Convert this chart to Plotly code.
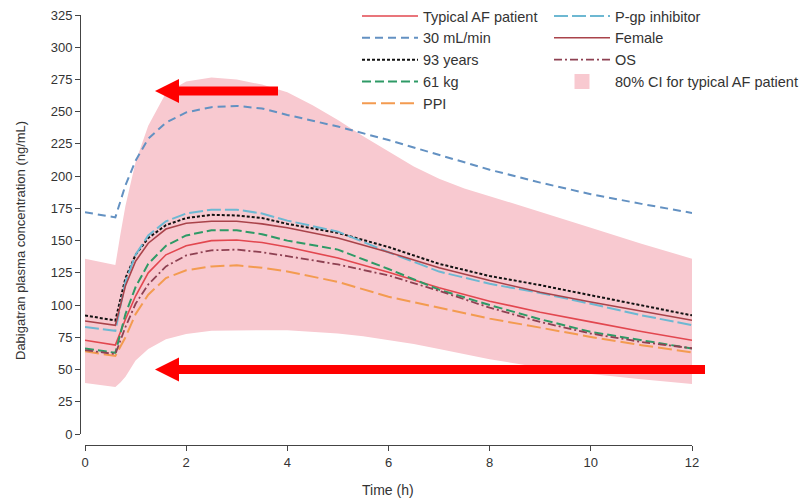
import plotly.graph_objects as go

# ---------------- data ----------------
T = [0, 0.6, 0.8, 1.0, 1.25, 1.6, 2.0, 2.5, 3.0, 3.5, 4, 5, 6, 7, 8, 9, 10, 11, 12]

typical = [72.7, 69, 89, 107, 125, 139, 146, 150, 150.5, 148.5, 145, 136.5, 125.5, 113.5, 103, 94.5, 87, 79.5, 72.7]
crcl30 = [172, 168, 193, 212, 229, 241.5, 249.5, 253.5, 254.5, 252.5, 247.5, 238.5, 228, 216.5, 205, 195, 186, 178.5, 171.5]
age93 = [92, 88, 121, 139, 152, 162, 167.5, 170, 169.5, 167.5, 163, 156, 145, 132, 122.5, 115.5, 107.6, 99.8, 92]
wt61 = [66.3, 63, 93, 114, 132, 146, 154, 158, 158, 155, 150, 143, 128, 112, 100, 89, 79.2, 72.7, 66.3]
ppi = [64.2, 60.5, 75, 93, 108, 121, 127, 130, 130.8, 129, 126, 118, 106.5, 98, 89.5, 82.5, 75.3, 68.9, 63.2]
pgp = [83, 80, 118, 139, 154, 165, 171, 174, 174, 171, 165.5, 157, 141, 126, 116.5, 109.4, 101, 92.1, 84.4]
female = [87.7, 84.3, 115, 134, 148, 159, 163.5, 165, 165, 163, 160, 152, 141, 129, 119, 110, 102.4, 95.2, 88.2]
os_ = [65, 62, 83, 101, 116, 130, 138.5, 142.5, 143, 141, 138, 131.5, 123, 111, 98, 86.9, 77.9, 71.4, 66.5]

# 80% CI band (own, finer time grid)
T_ci = [0, 0.6, 0.7, 0.8, 1.0, 1.25, 1.6, 2.0, 2.5, 3.0, 3.5, 4, 4.5, 5, 5.5, 6, 6.5, 7, 7.5, 8, 9, 10, 11, 12]
ci_lo = [39.5, 36.5, 40, 44.5, 57, 66, 73.5, 77.5, 80, 80.5, 80.5, 80.5, 79.5, 78, 75.8, 73, 69.8, 66, 62, 58, 51.5, 46.5, 42.5, 38.7]
ci_hi = [136, 131, 155, 177, 211, 239, 264.5, 273.5, 276.5, 275, 271, 265, 255, 243.5, 231, 219, 207.5, 198, 190.5, 184.5, 172.5, 160, 147.5, 136]

x_ticks = [0, 2, 4, 6, 8, 10, 12]
y_ticks = list(range(0, 326, 25))

# ---------------- figure ----------------
W, H = 803, 500
FONT = "Liberation Sans, Arial, Helvetica, sans-serif"


def fx(px):
    return px / W


def fy(py):
    return 1 - py / H


fig = go.Figure()

# confidence band
fig.add_trace(go.Scatter(x=T_ci, y=ci_lo, mode="lines", line=dict(width=0),
                         showlegend=False, hoverinfo="skip", legend="legend2"))
fig.add_trace(go.Scatter(x=T_ci, y=ci_hi, mode="lines", line=dict(width=0),
                         fill="tonexty", fillcolor="#f8c9d0", showlegend=False, hoverinfo="skip",
                         legend="legend2"))

series = [
    ("Typical AF patient", typical, "#e2474f", "solid", 1.6, "legend", 1),
    ("30 mL/min", crcl30, "#6391c2", "8px,5px", 2.0, "legend", 2),
    ("93 years", age93, "#111111", "3px,2px", 2.0, "legend", 3),
    ("61 kg", wt61, "#2e9a66", "9px,4px", 2.0, "legend", 4),
    ("PPI", ppi, "#f39b50", "14px,5px", 2.0, "legend", 5),
    ("P-gp inhibitor", pgp, "#6db8d2", "14px,4px", 2.0, "legend2", 6),
    ("Female", female, "#a9434a", "solid", 1.6, "legend2", 7),
    ("OS", os_, "#8e4152", "8px,3px,2px,3px", 1.8, "legend2", 8),
]
for name, ys, col, dash, w, lg, rk in series:
    fig.add_trace(go.Scatter(x=T, y=ys, mode="lines", name=name,
                             line=dict(color=col, dash=dash, width=w),
                             legend=lg, legendrank=rk))

# legend proxy for the band
fig.add_trace(go.Scatter(x=[None], y=[None], mode="markers", name="80% CI for typical AF patient",
                         marker=dict(symbol="square", size=15, color="#f8c9d0"),
                         legend="legend2", legendrank=9))

axis_common = dict(showgrid=False, zeroline=False, ticks="outside", ticklen=5, tickwidth=1,
                   tickcolor="#444", showline=True, linecolor="#444", linewidth=1,
                   tickfont=dict(family=FONT, size=13, color="#333"), anchor="free",
                   automargin=False)

leg_common = dict(xanchor="left", yanchor="top", bgcolor="rgba(0,0,0,0)",
                  font=dict(family=FONT, size=14.5, color="#333"), itemwidth=56,
                  tracegroupgap=0, traceorder="normal")

fig.update_layout(
    width=W, height=H, autosize=False,
    margin=dict(l=0, r=0, t=0, b=0, autoexpand=False),
    paper_bgcolor="white", plot_bgcolor="white",
    font=dict(family=FONT, color="#333"),
    xaxis=dict(domain=[fx(85), fx(692)], range=[0, 12], tickvals=x_ticks,
               position=fy(445), **axis_common),
    yaxis=dict(domain=[fy(434), fy(15)], range=[0, 325], tickvals=y_ticks,
               position=fx(80), **axis_common),
    legend=dict(x=fx(357), y=fy(0), **leg_common),
    legend2=dict(x=fx(549), y=fy(0), **leg_common),
    showlegend=True,
)

# axis titles
fig.add_annotation(text="Time (h)", x=fx(388), y=fy(490), xref="paper", yref="paper",
                   showarrow=False, font=dict(family=FONT, size=14, color="#333"),
                   xanchor="center", yanchor="middle")
fig.add_annotation(text="Dabigatran plasma concentration (ng/mL)", x=fx(20), y=fy(241),
                   xref="paper", yref="paper", showarrow=False, textangle=-90,
                   font=dict(family=FONT, size=13, color="#333"),
                   xanchor="center", yanchor="middle")


# red highlight arrows (annotation graphics)
def arrow_path(x_tip, x_tail, yc, half_shaft, half_head, head_len):
    xb = x_tip + head_len
    pts = [(x_tip, yc), (xb, yc - half_head), (xb, yc - half_shaft), (x_tail, yc - half_shaft),
           (x_tail, yc + half_shaft), (xb, yc + half_shaft), (xb, yc + half_head)]
    return "M " + " L ".join(f"{fx(a):.5f},{fy(b):.5f}" for a, b in pts) + " Z"


for x_tip, x_tail, yc in [(155, 278, 91), (155, 705, 369.5)]:
    fig.add_shape(type="path", xref="paper", yref="paper",
                  path=arrow_path(x_tip, x_tail, yc, 4.5, 12, 24),
                  fillcolor="#ff0000", line=dict(width=0), layer="above")

fig.write_html("out.html")
